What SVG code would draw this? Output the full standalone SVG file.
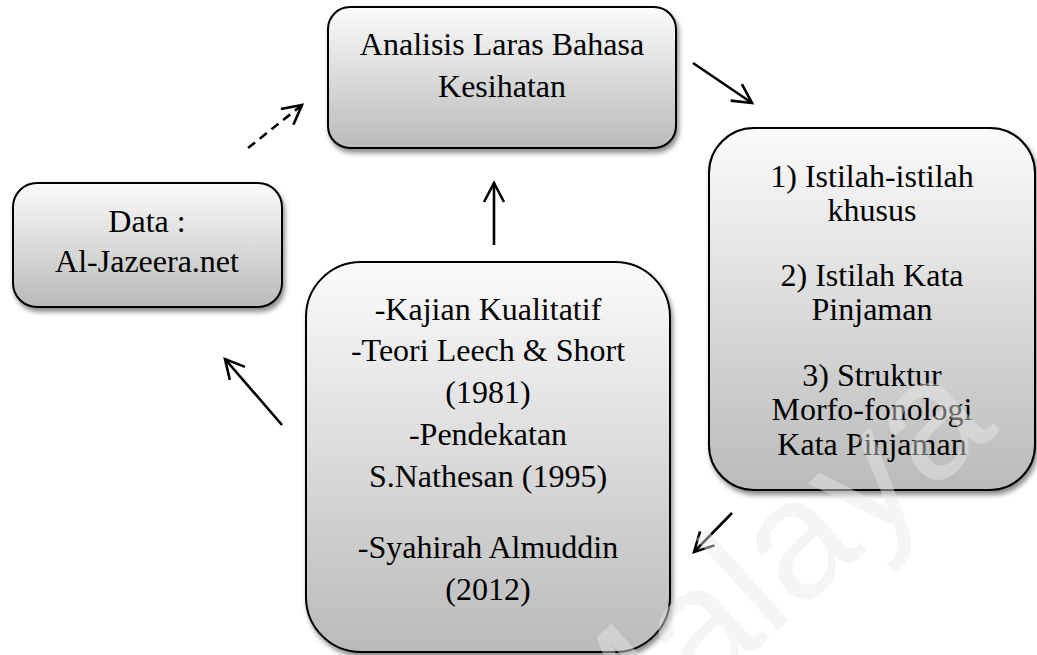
<svg xmlns="http://www.w3.org/2000/svg" width="1037" height="655" viewBox="0 0 1037 655">
  <defs>
    <linearGradient id="boxGrad" x1="0" y1="0" x2="0" y2="1">
      <stop offset="0" stop-color="#fbfbfb"/>
      <stop offset="1" stop-color="#bababa"/>
    </linearGradient>
    <filter id="shadow" x="-10%" y="-10%" width="120%" height="125%">
      <feDropShadow dx="2" dy="4" stdDeviation="2.5" flood-color="#000" flood-opacity="0.45"/>
    </filter>
    <marker id="arrow" markerUnits="userSpaceOnUse" viewBox="-24 -14 28 28" refX="0" refY="0" markerWidth="28" markerHeight="28" orient="auto">
      <path d="M-19,-10 L0,0 L-19,10" fill="none" stroke="#000" stroke-width="2.6"/>
    </marker>
    <style>
      .box { fill: url(#boxGrad); stroke: #000; stroke-width: 2; filter: url(#shadow); }
      .lbl { font-family: "Liberation Serif", "Times New Roman", serif; font-size: 32px; fill: #000; text-anchor: middle; }
      .conn { stroke: #000; stroke-width: 2.6; fill: none; marker-end: url(#arrow); }
      .dash { stroke-dasharray: 9 6; }
      .wm { font-family: "Liberation Sans", Arial, sans-serif; font-size: 169px; fill: #e8e8e8; fill-opacity: 0.45; }
    </style>
  </defs>
  <rect width="1037" height="655" fill="#ffffff"/>

  <g id="connectors">
    <line class="conn dash" x1="248" y1="148" x2="302" y2="105"/>
    <line class="conn" x1="693" y1="63" x2="752" y2="103"/>
    <line class="conn" x1="732" y1="513" x2="694" y2="552"/>
    <line class="conn" x1="282" y1="425" x2="225" y2="359"/>
    <line class="conn" x1="494" y1="245" x2="494" y2="183"/>
  </g>

  <g id="node-analisis">
    <rect class="box" x="328" y="7" width="348" height="141" rx="22" ry="22"/>
    <text class="lbl" x="502" y="55">Analisis Laras Bahasa</text>
    <text class="lbl" x="502" y="97">Kesihatan</text>
  </g>

  <g id="node-data">
    <rect class="box" x="13" y="183" width="269" height="124" rx="24" ry="24"/>
    <text class="lbl" x="147" y="232">Data :</text>
    <text class="lbl" x="147" y="272">Al-Jazeera.net</text>
  </g>

  <g id="node-istilah">
    <rect class="box" x="709" y="128" width="326" height="362" rx="45" ry="45"/>
    <text class="lbl" x="872" y="187">1) Istilah-istilah</text>
    <text class="lbl" x="872" y="221">khusus</text>
    <text class="lbl" x="872" y="286">2) Istilah Kata</text>
    <text class="lbl" x="872" y="320">Pinjaman</text>
    <text class="lbl" x="872" y="386">3) Struktur</text>
    <text class="lbl" x="872" y="420">Morfo-fonologi</text>
    <text class="lbl" x="872" y="455">Kata Pinjaman</text>
  </g>

  <g id="node-kajian">
    <rect class="box" x="306" y="262" width="364" height="390" rx="55" ry="55"/>
    <text class="lbl" x="488" y="320">-Kajian Kualitatif</text>
    <text class="lbl" x="488" y="361">-Teori Leech &amp; Short</text>
    <text class="lbl" x="488" y="403">(1981)</text>
    <text class="lbl" x="488" y="445">-Pendekatan</text>
    <text class="lbl" x="488" y="487">S.Nathesan (1995)</text>
    <text class="lbl" x="488" y="558">-Syahirah Almuddin</text>
    <text class="lbl" x="488" y="600">(2012)</text>
  </g>

  <text class="wm" transform="translate(595 795) rotate(-42)">Malaya</text>
</svg>
